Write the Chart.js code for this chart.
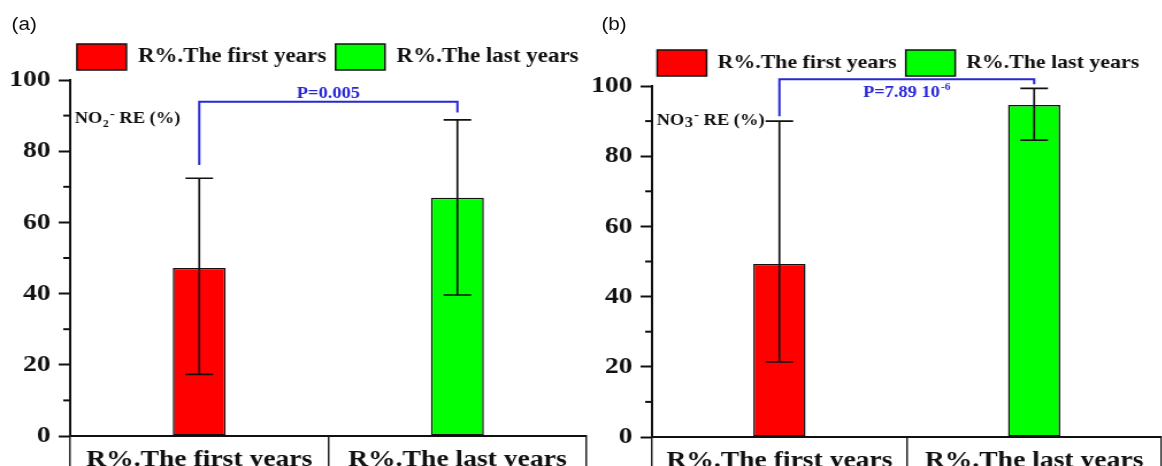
<!DOCTYPE html>
<html><head><meta charset="utf-8">
<script src="https://cdn.jsdelivr.net/npm/chart.js@4.4.0/dist/chart.umd.min.js"></script>
<style>
html,body{margin:0;padding:0;background:#fff;overflow:hidden;width:1162px;height:466px;}
#wrap{position:absolute;left:0;top:0;width:1050px;height:467px;transform:scaleX(1.15);transform-origin:0 0;}
canvas{position:absolute;top:0;}
.plabel{position:absolute;font-family:"Liberation Sans",Arial,sans-serif;font-size:18px;color:#111;line-height:20px;}
</style></head><body>
<div id="wrap">
<div class="plabel" style="left:10px;top:14px">(a)</div>
<div class="plabel" style="left:523px;top:14px">(b)</div>
<canvas id="ca" width="570" height="466" style="left:0"></canvas>
<canvas id="cb" width="536" height="467" style="left:513px"></canvas>
</div>
<script>
// ---- data ----
const categories = ['R%.The first years', 'R%.The last years'];
const seriesNames = ['R%.The first years', 'R%.The last years'];
const seriesColors = ['#ff0000', '#00ff00'];
const yTicks = [0, 20, 40, 60, 80, 100];
const yMinorTicks = [10, 30, 50, 70, 90];

// panel (a): NO2- RE (%)
const no2Mean = [47.2, 66.9];
const no2ErrLow = [17.3, 39.6];
const no2ErrHigh = [72.4, 88.8];
const no2Bracket = [76.1, 93.9, 90.9];   // left end, top, right end
const no2PText = 'P=0.005';

// panel (b): NO3- RE (%)
const no3Mean = [49.3, 94.6];
const no3ErrLow = [21.4, 84.6];
const no3ErrHigh = [90.0, 99.3];
const no3Bracket = [91.4, 101.9, 100.5];
const no3PText = 'P=7.89 10';
const no3PExp = '-6';

const SERIF = '"Liberation Serif","Times New Roman",serif';
const BLUE = '#2727d8';

const extras = {
  id: 'extras',
  afterDraw(chart, args, o) {
    const {ctx, chartArea} = chart;
    const x = chart.scales.x, y = chart.scales.y;
    ctx.save();
    // minor ticks
    ctx.strokeStyle = '#111'; ctx.lineWidth = 2;
    yMinorTicks.forEach(v => {
      const py = y.getPixelForValue(v);
      ctx.beginPath(); ctx.moveTo(chartArea.left, py); ctx.lineTo(chartArea.left - 6, py); ctx.stroke();
    });
    // error bars
    ctx.strokeStyle = '#111'; ctx.lineWidth = 1.7;
    o.low.forEach((lo, i) => {
      const px = x.getPixelForValue(i);
      const pl = y.getPixelForValue(lo), ph = y.getPixelForValue(o.high[i]);
      ctx.beginPath();
      ctx.moveTo(px, pl); ctx.lineTo(px, ph);
      ctx.moveTo(px - 12, pl); ctx.lineTo(px + 12, pl);
      ctx.moveTo(px - 12, ph); ctx.lineTo(px + 12, ph);
      ctx.stroke();
    });
    // significance bracket
    const [bl, bt, br] = o.bracket;
    const x0 = x.getPixelForValue(0), x1 = x.getPixelForValue(1);
    const pt = y.getPixelForValue(bt);
    ctx.strokeStyle = BLUE; ctx.lineWidth = 2;
    ctx.beginPath();
    ctx.moveTo(x0, y.getPixelForValue(bl)); ctx.lineTo(x0, pt);
    ctx.lineTo(x1, pt); ctx.lineTo(x1, y.getPixelForValue(br));
    ctx.stroke();
    // P text
    ctx.fillStyle = BLUE;
    ctx.textBaseline = 'alphabetic';
    ctx.textAlign = 'left';
    const mainFont = 'bold 16px ' + SERIF, supFont = 'bold 10px ' + SERIF;
    ctx.font = mainFont;
    const w1 = ctx.measureText(o.pText).width;
    let w2 = 0;
    if (o.pExp) { ctx.font = supFont; w2 = ctx.measureText(o.pExp).width + 1; }
    const sx = (x0 + x1) / 2 - (w1 + w2) / 2;
    const by = o.pAbove ? pt - 4 : pt + 18;
    ctx.font = mainFont; ctx.fillText(o.pText, sx, by);
    if (o.pExp) { ctx.font = supFont; ctx.fillText(o.pExp, sx + w1 + 1, by - 7); }
    // species label  NOx- RE (%)
    ctx.fillStyle = '#111';
    ctx.textBaseline = 'middle';
    let lx = chartArea.left + 4;
    const ly = y.getPixelForValue(o.labelAt);
    const big = 'bold 16px ' + SERIF;
    ctx.font = big; ctx.fillText('NO', lx, ly); lx += ctx.measureText('NO').width + 0.5;
    ctx.font = 'bold ' + o.subPx + 'px ' + SERIF;
    ctx.fillText(o.sub, lx, ly + o.subDy); lx += ctx.measureText(o.sub).width + 1;
    ctx.font = 'bold 13px ' + SERIF;
    ctx.fillText('-', lx, ly - 5); lx += ctx.measureText('-').width;
    ctx.font = big; ctx.fillText(' RE (%)', lx, ly);
    ctx.restore();
  }
};

function makeChart(id, mean, low, high, bracket, pText, pExp, pAbove, sub, subPx, subDy, labelAt, yW, rW, topPad, legFont) {
  return new Chart(document.getElementById(id), {
    type: 'bar',
    data: {
      labels: categories,
      datasets: seriesNames.map((name, k) => ({
        label: name,
        data: mean.map((v, i) => (i === k ? v : null)),
        backgroundColor: seriesColors[k],
        borderColor: '#111',
        borderWidth: 1.5,
        borderSkipped: false,
        grouped: false,
        categoryPercentage: 1,
        barPercentage: 0.205
      }))
    },
    options: {
      responsive: false,
      animation: false,
      events: [],
      devicePixelRatio: 1,
      layout: { padding: { top: topPad, left: 0, right: 0, bottom: 0 } },
      scales: {
        x: {
          type: 'category',
          offset: true,
          afterFit: s => { s.height = 30; },
          ticks: { font: { family: SERIF, size: 24, weight: 'bold' }, color: '#111', padding: -21, maxRotation: 0, autoSkip: false },
          grid: { offset: true, drawOnChartArea: false, drawTicks: true, tickLength: 30, color: '#222', lineWidth: 1.5 },
          border: { display: true, color: '#111', width: 2 }
        },
        y: {
          min: 0, max: 100,
          afterFit: s => { s.width = yW; },
          afterBuildTicks: s => { s.ticks = yTicks.map(v => ({ value: v })); },
          ticks: { font: { family: SERIF, size: 24, weight: 'bold' }, color: '#111', padding: 7 },
          grid: { drawOnChartArea: false, drawTicks: true, tickLength: 10, tickColor: '#111', tickWidth: 2, color: '#111' },
          border: { display: true, color: '#111', width: 2 }
        },
        yR: {
          position: 'right', min: 0, max: 100,
          afterFit: s => { s.width = rW; },
          ticks: { display: false }, grid: { display: false }, border: { display: false }
        }
      },
      plugins: {
        legend: {
          position: 'top', align: 'center',
          labels: { boxWidth: 43, boxHeight: 26, padding: 8, color: '#111', font: { family: SERIF, size: legFont, weight: 'bold' } }
        },
        tooltip: { enabled: false },
        title: { display: false },
        extras: { low, high, bracket, pText, pExp, pAbove, sub, subPx, subDy, labelAt }
      }
    },
    plugins: [extras]
  });
}

makeChart('ca', no2Mean, no2ErrLow, no2ErrHigh, no2Bracket, no2PText, '', true, '2', 10, 5, 89, 61, 60, 36, 20);
makeChart('cb', no3Mean, no3ErrLow, no3ErrHigh, no3Bracket, no3PText, no3PExp, false, '3', 14, 2, 90, 54, 39, 42, 19);
</script>
</body></html>
